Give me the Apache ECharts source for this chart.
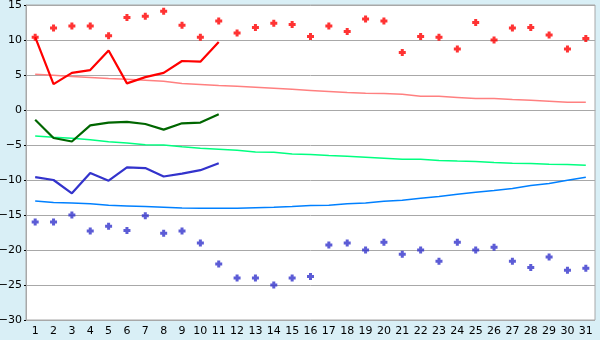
<!DOCTYPE html>
<html>
<head>
<meta charset="utf-8">
<script src="https://cdn.jsdelivr.net/npm/echarts@6/dist/echarts.min.js"></script>
<style>
html,body{margin:0;padding:0;background:#D9EFF6;}
#c{width:600px;height:340px;}
</style>
</head>
<body>
<div id="c"></div>
<script>
var days = ['1','2','3','4','5','6','7','8','9','10','11','12','13','14','15','16','17','18','19','20','21','22','23','24','25','26','27','28','29','30','31'];
var yTicks = [15,10,5,0,-5,-10,-15,-20,-25,-30];

var maxRecord = [10.4,11.7,12.0,12.0,10.6,13.2,13.4,14.1,12.1,10.4,12.7,11.0,11.8,12.4,12.2,10.5,12.0,11.2,13.0,12.7,8.2,10.5,10.4,8.7,12.5,10.0,11.7,11.8,10.7,8.7,10.2];
var minRecord = [-16.0,-16.0,-15.0,-17.3,-16.6,-17.2,-15.1,-17.6,-17.3,-19.0,-22.0,-24.0,-24.0,-25.0,-24.0,-23.8,-19.3,-19.0,-20.0,-18.9,-20.6,-20.0,-21.6,-18.9,-20.0,-19.6,-21.6,-22.5,-21.0,-22.9,-22.6];

var maxActual = [10.4,3.7,5.3,5.7,8.5,3.8,4.7,5.3,7.0,6.9,9.7];
var meanActual = [-1.4,-4.0,-4.5,-2.2,-1.8,-1.7,-2.0,-2.8,-1.9,-1.8,-0.6];
var minActual = [-9.6,-10.0,-11.9,-9.0,-10.1,-8.2,-8.3,-9.5,-9.1,-8.6,-7.6];

var maxNormal = [5.1,4.95,4.8,4.65,4.5,4.4,4.25,4.1,3.8,3.65,3.5,3.4,3.25,3.1,2.95,2.8,2.65,2.5,2.4,2.35,2.25,1.95,1.95,1.8,1.65,1.65,1.5,1.4,1.25,1.1,1.1];
var meanNormal = [-3.7,-3.9,-4.05,-4.25,-4.55,-4.7,-4.95,-5.0,-5.25,-5.45,-5.6,-5.75,-6.0,-6.05,-6.3,-6.35,-6.5,-6.6,-6.75,-6.9,-7.05,-7.05,-7.2,-7.3,-7.35,-7.5,-7.6,-7.65,-7.75,-7.8,-7.9];
var minNormal = [-13.0,-13.2,-13.3,-13.4,-13.6,-13.7,-13.8,-13.9,-14.0,-14.05,-14.05,-14.05,-13.95,-13.9,-13.8,-13.65,-13.6,-13.4,-13.3,-13.05,-12.9,-12.6,-12.35,-12.05,-11.75,-11.5,-11.2,-10.8,-10.5,-10.05,-9.6];

var chart = echarts.init(document.getElementById('c'), null, {renderer:'canvas'});
var plus = 'path://M2,0h3v2h2v3h-2v2h-3v-2h-2v-3h2z';
function lineS(data, color, w, z){
  return {type:'line', data:data, symbol:'none', smooth:false, z:z||2,
    lineStyle:{color:color, width:w}, animation:false};
}
chart.setOption({
  backgroundColor:'#D9EFF6',
  animation:false,
  grid:{left:26, right:5, top:5, bottom:20, containLabel:false, outerBoundsMode:'none',
    show:true, backgroundColor:'#FFFFFF', borderColor:'#A8A8A8', borderWidth:1},
  xAxis:{type:'category', data:days, boundaryGap:true,
    axisLine:{lineStyle:{color:'#A8A8A8'}},
    axisTick:{alignWithLabel:true, length:5, lineStyle:{color:'#000'}},
    axisLabel:{color:'#000', fontFamily:'DejaVu Sans', fontSize:11, margin:6, interval:0},
    splitLine:{show:false}},
  yAxis:{type:'value', min:-30, max:15, interval:5,
    axisLine:{show:true, lineStyle:{color:'#A8A8A8'}},
    axisTick:{show:true, length:2, lineStyle:{color:'#000'}},
    axisLabel:{color:'#000', fontFamily:'DejaVu Sans', fontSize:11, margin:4,
      formatter:function(v){ return v<0 ? '\u2212'+Math.abs(v) : String(v); }},
    splitLine:{lineStyle:{color:'#A8A8A8', width:1}}},
  series:[
    lineS(maxNormal,'#FF8080',1.5),
    lineS(meanNormal,'#00FF80',1.5),
    lineS(minNormal,'#0080FF',1.5),
    lineS(maxActual,'#FF0000',2.2,3),
    lineS(meanActual,'#006600',2.2,3),
    lineS(minActual,'#3333CC',2.2,3),
    {type:'scatter', data:maxRecord, symbol:plus, symbolSize:7, itemStyle:{color:'#FF0000'}, z:4},
    {type:'scatter', data:minRecord, symbol:plus, symbolSize:7, itemStyle:{color:'#3333CC'}, z:4}
  ]
});
</script>
</body>
</html>
